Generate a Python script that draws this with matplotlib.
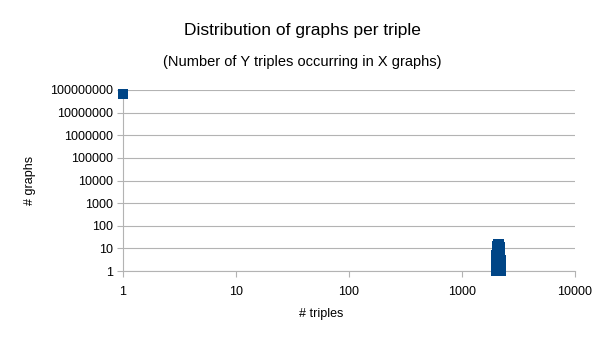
import matplotlib.pyplot as plt
from matplotlib.ticker import FixedLocator, FixedFormatter, NullLocator

plt.rcParams['font.family'] = ['Liberation Sans', 'DejaVu Sans']

# Data: x = number of triples, y = number of graphs
triples = [1, 1980, 1985, 1990, 1995, 2000, 2005, 2010, 2015, 2020, 2025, 2030,
           2035, 2040, 2045, 2050, 2060, 2070, 2080, 2090, 2100, 2110, 2120,
           2130, 2140, 2150, 2155, 2160, 2165, 2170, 2175, 2180, 2185, 2190,
           2195, 2200, 2205, 2210, 2215, 2220]
graphs = [6.6e7, 1, 1, 1, 2, 2, 3, 4, 5, 6, 7, 8,
          9, 10, 11, 12, 13, 14, 15, 16, 16, 16, 15, 14,
          13, 12, 11, 10, 9, 8, 7, 6, 5, 4,
          3, 2, 2, 1, 1, 1]

xticks = [1, 10, 100, 1000, 10000]
yticks = [1, 10, 100, 1000, 10000, 100000, 1000000, 10000000, 100000000]

fig = plt.figure(figsize=(6.05, 3.4), dpi=100)
ax = fig.add_axes([123 / 605, 1 - 271 / 340, (575 - 123) / 605, (271 - 90) / 340])

ax.scatter(triples, graphs, marker='s', s=60, color='#004586', zorder=3, clip_on=False,
           linewidths=0)
ax.set_xscale('log')
ax.set_yscale('log')
ax.set_xlim(1, 10000)
ax.set_ylim(1, 100000000)

ax.xaxis.set_major_locator(FixedLocator(xticks))
ax.xaxis.set_major_formatter(FixedFormatter([str(v) for v in xticks]))
ax.xaxis.set_minor_locator(NullLocator())
ax.yaxis.set_major_locator(FixedLocator(yticks))
ax.yaxis.set_major_formatter(FixedFormatter([str(v) for v in yticks]))
ax.yaxis.set_minor_locator(NullLocator())

ax.grid(True, axis='y', color='#b3b3b3', linewidth=0.8)
ax.set_axisbelow(True)
for side in ['top', 'right']:
    ax.spines[side].set_visible(False)
for side in ['left', 'bottom']:
    ax.spines[side].set_color('#b3b3b3')
    ax.spines[side].set_linewidth(0.8)
ax.tick_params(axis='both', colors='#b3b3b3', labelcolor='black', labelsize=9,
               length=4, width=0.8, direction='out')
ax.tick_params(axis='x', pad=7)

fig.text(0.5, 1 - 30 / 340, 'Distribution of graphs per triple', ha='center', va='center',
         fontsize=12.5)
fig.text(0.5, 1 - 62 / 340, '(Number of Y triples occurring in X graphs)', ha='center',
         va='center', fontsize=10.5)
fig.text(321 / 605, 1 - 314 / 340, '# triples', ha='center', va='center', fontsize=9)
fig.text(30 / 605, 1 - 180 / 340, '# graphs', ha='center', va='center', fontsize=9,
         rotation=90)

fig.savefig('out.png', dpi=100)
